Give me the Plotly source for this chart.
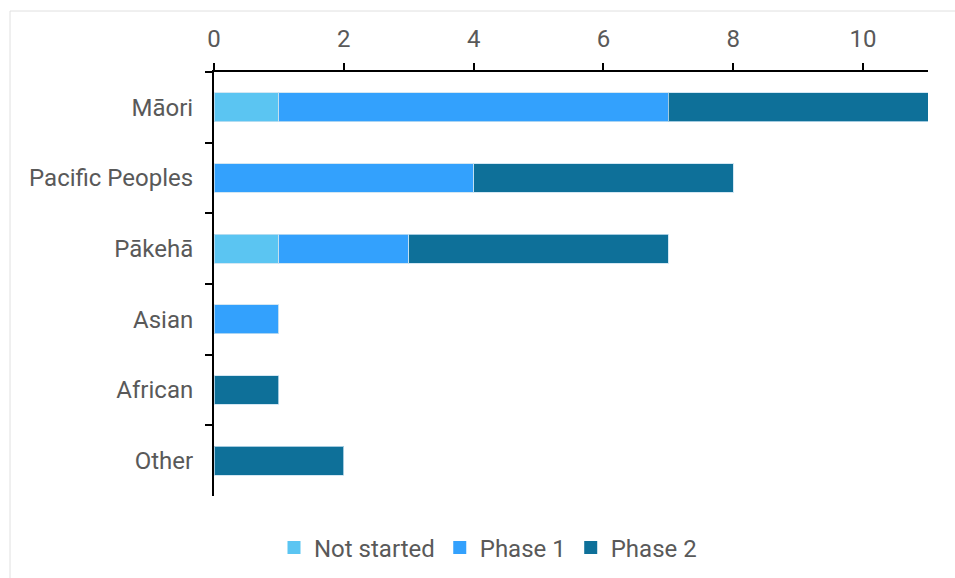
import plotly.graph_objects as go

categories = ["Māori", "Pacific Peoples", "Pākehā", "Asian", "African", "Other"]
not_started = [1, 0, 1, 0, 0, 0]
phase1 = [6, 4, 2, 1, 0, 0]
phase2 = [4, 4, 4, 0, 1, 2]
x_ticks = [0, 2, 4, 6, 8, 10]

colors = {"Not started": "#5BC5F2", "Phase 1": "#33A1FD", "Phase 2": "#0E7099"}
series = [("Not started", not_started), ("Phase 1", phase1), ("Phase 2", phase2)]

fig = go.Figure()
for name, vals in series:
    fig.add_trace(go.Bar(
        y=categories, x=vals, name=name, orientation="h", showlegend=False,
        marker=dict(color=colors[name], line=dict(color="rgba(200,225,240,0.8)", width=1)),
    ))
for name, vals in series:
    fig.add_trace(go.Scatter(
        x=[None], y=[None], mode="markers", name=name, showlegend=True,
        marker=dict(symbol="square", size=13, color=colors[name]),
    ))

W, H = 955, 578
ml, mr, mt, mb = 214, 27, 72, 82
pw, ph = W - ml - mr, H - mt - mb

def px(xp):
    return (xp - ml) / pw

def py(yp):
    return (H - mb - yp) / ph

fig.update_layout(
    width=W, height=H,
    barmode="stack", bargap=0.59,
    margin=dict(l=ml, r=mr, t=mt, b=mb, autoexpand=False),
    paper_bgcolor="white", plot_bgcolor="white",
    font=dict(family="Roboto", size=24, color="#595959"),
    showlegend=True,
    legend=dict(orientation="h", xref="container", yref="container",
                x=488 / W, xanchor="center", y=1 - 548 / H, yanchor="middle",
                font=dict(size=24, color="#595959"), traceorder="normal",
                itemwidth=30, tracegroupgap=0),
    xaxis=dict(side="top", range=[0, 11], tickvals=x_ticks, showgrid=False, zeroline=False,
               showline=True, linecolor="black", linewidth=2, ticks="outside", ticklen=7,
               tickcolor="black", tickwidth=2, ticklabelstandoff=6),
    yaxis=dict(categoryorder="array", categoryarray=categories, autorange="reversed",
               showgrid=False, zeroline=False, showline=True, linecolor="black", linewidth=2,
               ticks="outside", ticklen=7, tickcolor="black", tickwidth=2,
               tickson="boundaries", ticklabelstandoff=14),
    shapes=[dict(type="rect", xref="paper", yref="paper",
                 x0=px(10), x1=px(975), y0=py(600), y1=py(11),
                 line=dict(color="#E0E0E0", width=1), fillcolor="rgba(0,0,0,0)", layer="below")],
)

fig.write_html("out.html")
